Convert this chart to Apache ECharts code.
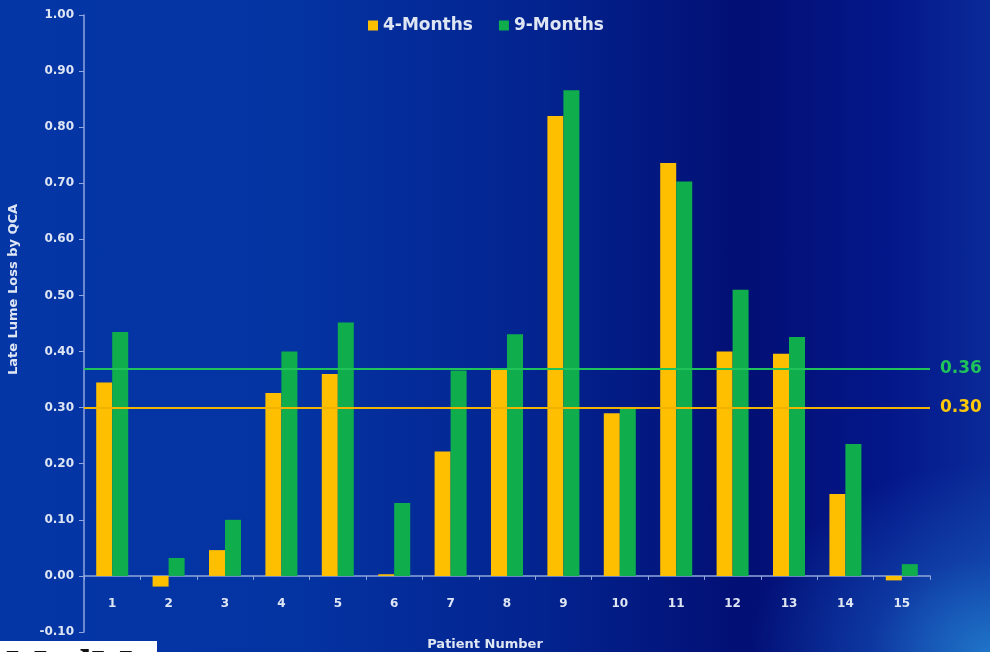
<!DOCTYPE html>
<html>
<head>
<meta charset="utf-8">
<script src="https://cdn.jsdelivr.net/npm/echarts@6/dist/echarts.min.js"></script>
<style>
  html, body { margin: 0; padding: 0; }
  #chart {
    width: 990px;
    height: 652px;
    background:
      radial-gradient(ellipse 240px 190px at 100% 100%, #1f74c8 0%, rgba(25,95,190,0.45) 50%, rgba(10,60,170,0) 100%),
      linear-gradient(90deg, #0536a6 0%, #0433a2 30%, #03238f 55%, #020f74 75%, #04178a 90%, #0a2a98 100%);
  }
</style>
</head>
<body>
<div id="chart"></div>
<script>
// patient numbers
const patients = ['1', '2', '3', '4', '5', '6', '7', '8', '9', '10', '11', '12', '13', '14', '15']
// late lumen loss by QCA
const months4 = [0.345, -0.019, 0.046, 0.326, 0.36, 0.003, 0.222, 0.369, 0.82, 0.29, 0.736, 0.40, 0.396, 0.146, -0.008]
const months9 = [0.435, 0.032, 0.10, 0.40, 0.452, 0.13, 0.366, 0.431, 0.866, 0.30, 0.703, 0.51, 0.426, 0.235, 0.021]
// mean lines (position, label)
const meanValues = [0.37, 0.30]
const meanLabels = ['0.36', '0.30']

const yellow = '#fdbf00'
const green = '#10ad4c'
const textColor = '#dfe6f3'
const axisColor = '#8ea6dc'

const chart = echarts.init(document.getElementById('chart'))

chart.setOption({
  backgroundColor: 'transparent',
  animation: false,
  textStyle: { fontFamily: 'DejaVu Sans, sans-serif' },
  legend: {
    top: 12,
    left: 363,
    itemWidth: 10,
    itemHeight: 10,
    itemGap: 26,
    icon: 'rect',
    textStyle: { color: textColor, fontSize: 17, fontWeight: 'bold' },
    data: ['4-Months', '9-Months']
  },
  grid: {
    left: 84,
    right: 60,
    top: 15,
    bottom: 20,
    containLabel: false,
    outerBoundsMode: 'none'
  },
  xAxis: {
    type: 'category',
    data: patients,
    name: 'Patient Number',
    nameLocation: 'middle',
    nameGap: 6,
    nameTextStyle: { color: textColor, fontSize: 13, fontWeight: 'bold', padding: [0, 44, 0, 0] },
    axisLine: { onZero: true, lineStyle: { color: axisColor, width: 1.5 } },
    axisTick: { show: true, length: 4, lineStyle: { color: axisColor } },
    axisLabel: { color: textColor, fontSize: 12, fontWeight: 'bold', margin: -34 }
  },
  yAxis: {
    type: 'value',
    min: -0.1,
    max: 1.0,
    interval: 0.1,
    name: 'Late Lume Loss by QCA',
    nameLocation: 'middle',
    nameGap: 64,
    nameTextStyle: { color: textColor, fontSize: 13, fontWeight: 'bold', padding: [0, 0, 0, 68] },
    axisLine: { show: true, lineStyle: { color: axisColor, width: 1.5 } },
    axisTick: { show: true, length: 5, lineStyle: { color: axisColor } },
    splitLine: { show: false },
    axisLabel: {
      color: textColor,
      fontSize: 12,
      fontWeight: 'bold',
      margin: 10,
      formatter: v => v.toFixed(2)
    }
  },
  series: [
    {
      name: '4-Months',
      type: 'bar',
      data: months4,
      barWidth: 16,
      barGap: '0%',
      itemStyle: { color: yellow },
      z: 2
    },
    {
      name: '9-Months',
      type: 'bar',
      data: months9,
      barWidth: 16,
      barGap: '0%',
      itemStyle: { color: green },
      z: 2,
      markLine: {
        silent: true,
        symbol: 'none',
        z: 5,
        data: [
          {
            yAxis: meanValues[0],
            lineStyle: { color: '#1fc35a', width: 2, type: 'solid' },
            label: { formatter: meanLabels[0], color: '#1fc35a' }
          },
          {
            yAxis: meanValues[1],
            lineStyle: { color: '#f0b400', width: 2, type: 'solid' },
            label: { formatter: meanLabels[1], color: '#ffc90a' }
          }
        ],
        label: {
          position: 'end',
          distance: 10,
          fontSize: 17,
          fontWeight: 'bold'
        }
      }
    }
  ],
  graphic: [
    {
      type: 'group',
      left: 0,
      top: 641,
      children: [
        {
          type: 'rect',
          shape: { x: 0, y: 0, width: 157, height: 12 },
          style: { fill: '#ffffff' }
        },
        {
          type: 'text',
          x: 6,
          y: 6,
          style: {
            text: 'MedM',
            fill: '#111111',
            font: 'bold 44px Liberation Serif',
            textVerticalAlign: 'top',
            letterSpacing: 14
          }
        }
      ]
    }
  ]
})
</script>
</body>
</html>
